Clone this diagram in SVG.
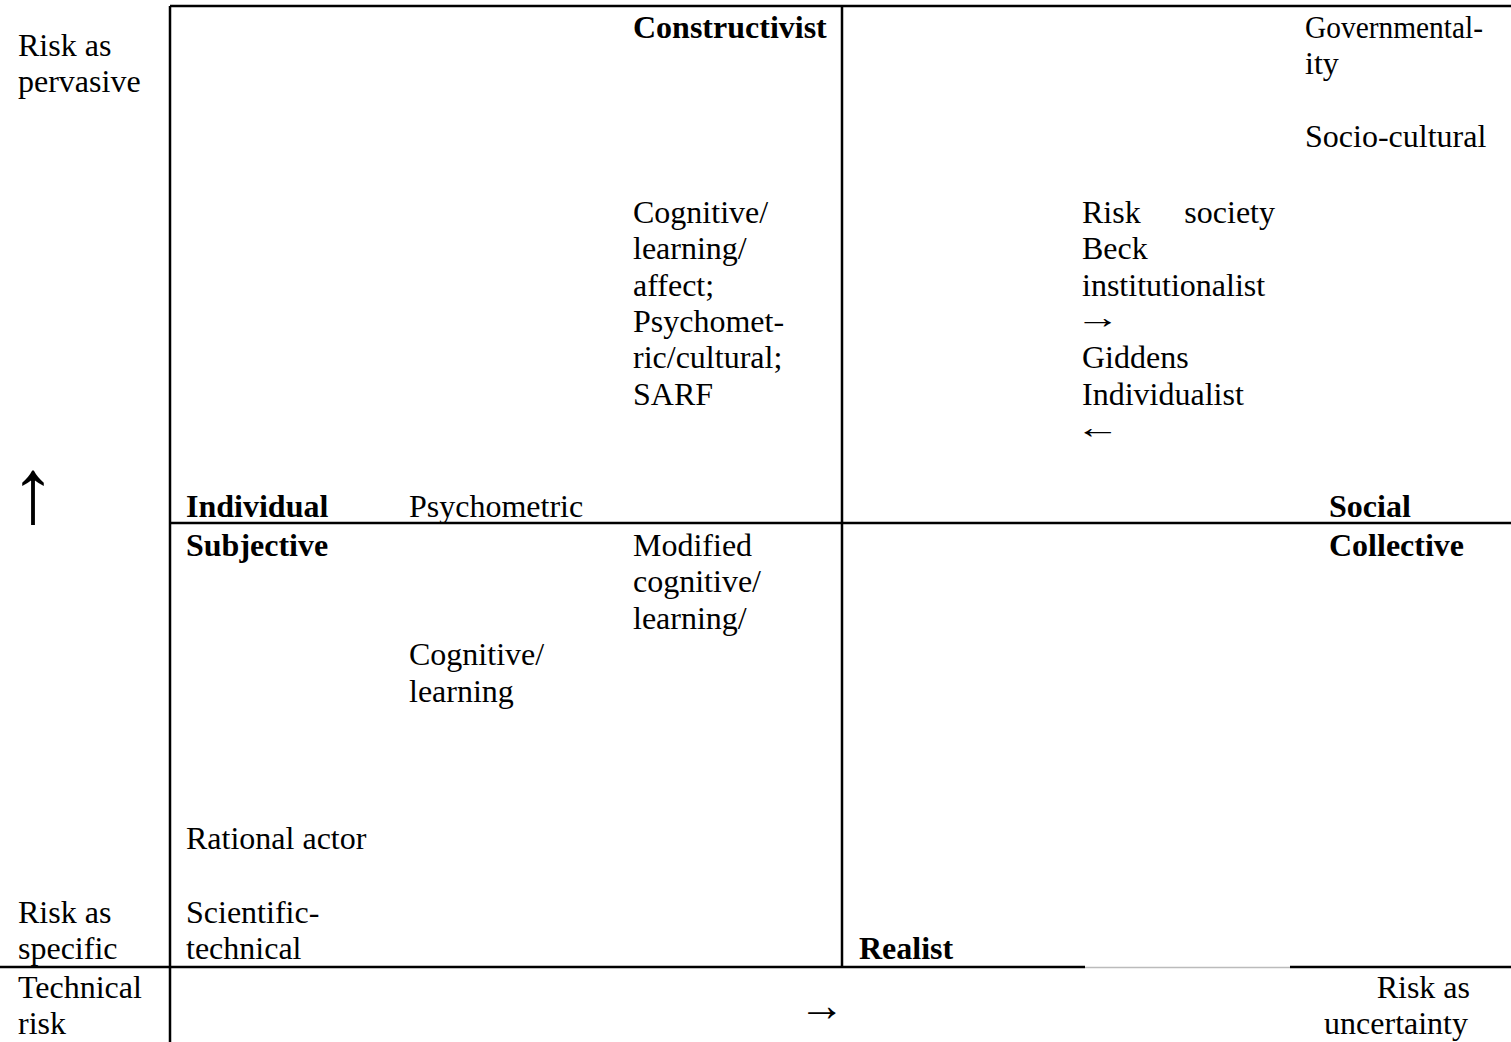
<svg xmlns="http://www.w3.org/2000/svg" width="1511" height="1042" viewBox="0 0 1511 1042">
<style>
text{font-family:"Liberation Serif","Times New Roman",serif;font-size:32px;fill:#000}
.b{font-weight:bold}
.ln{stroke:#000;stroke-width:2.5;fill:none}
</style>
<rect width="1511" height="1042" fill="#fff"/>
<g id="grid">
<line class="ln" x1="170" y1="6" x2="1511" y2="6"/>
<line class="ln" x1="170" y1="6" x2="170" y2="1042"/>
<line class="ln" x1="842" y1="6" x2="842" y2="967"/>
<line class="ln" x1="170" y1="523" x2="1511" y2="523"/>
<line class="ln" x1="0" y1="967" x2="1085" y2="967"/>
<line class="ln" x1="1290" y1="967" x2="1511" y2="967"/>
<line x1="1085" y1="967.5" x2="1290" y2="967.5" stroke="#bbb" stroke-width="1.5"/>
</g>
<g id="axis-left">
<text x="18" y="56">Risk as</text>
<text x="18" y="92">pervasive</text>
<text x="10" y="522" style="font-size:92px">↑</text>
<text x="18" y="923">Risk as</text>
<text x="18" y="959">specific</text>
<text x="18" y="998">Technical</text>
<text x="18" y="1034">risk</text>
</g>
<g id="axis-bottom">
<text x="799" y="1021" style="font-size:46px">→</text>
<text x="1470" y="998" text-anchor="end">Risk as</text>
<text x="1468" y="1034" text-anchor="end">uncertainty</text>
</g>
<g id="cell-top-left">
<text class="b" x="633" y="38">Constructivist</text>
<text x="633" y="223">Cognitive/</text>
<text x="633" y="259">learning/</text>
<text x="633" y="296">affect;</text>
<text x="633" y="332">Psychomet-</text>
<text x="633" y="368">ric/cultural;</text>
<text x="633" y="405">SARF</text>
<text class="b" x="186" y="517">Individual</text>
<text x="409" y="517">Psychometric</text>
</g>
<g id="cell-top-right">
<text x="1305" y="38" textLength="178" lengthAdjust="spacingAndGlyphs">Governmental-</text>
<text x="1305" y="74">ity</text>
<text x="1305" y="147">Socio-cultural</text>
<text x="1082" y="223">Risk</text>
<text x="1275" y="223" text-anchor="end">society</text>
<text x="1082" y="259">Beck</text>
<text x="1082" y="296">institutionalist</text>
<text transform="translate(1075,328) scale(1.4,1)">→</text>
<text x="1082" y="368">Giddens</text>
<text x="1082" y="405">Individualist</text>
<text transform="translate(1075,438) scale(1.4,1)">←</text>
<text class="b" x="1329" y="517">Social</text>
</g>
<g id="cell-bottom-left">
<text class="b" x="186" y="556">Subjective</text>
<text x="633" y="556">Modified</text>
<text x="633" y="592">cognitive/</text>
<text x="633" y="629">learning/</text>
<text x="409" y="665">Cognitive/</text>
<text x="409" y="702">learning</text>
<text x="186" y="849">Rational actor</text>
<text x="186" y="923">Scientific-</text>
<text x="186" y="959">technical</text>
</g>
<g id="cell-bottom-right">
<text class="b" x="1329" y="556">Collective</text>
<text class="b" x="859" y="959">Realist</text>
</g>
</svg>
